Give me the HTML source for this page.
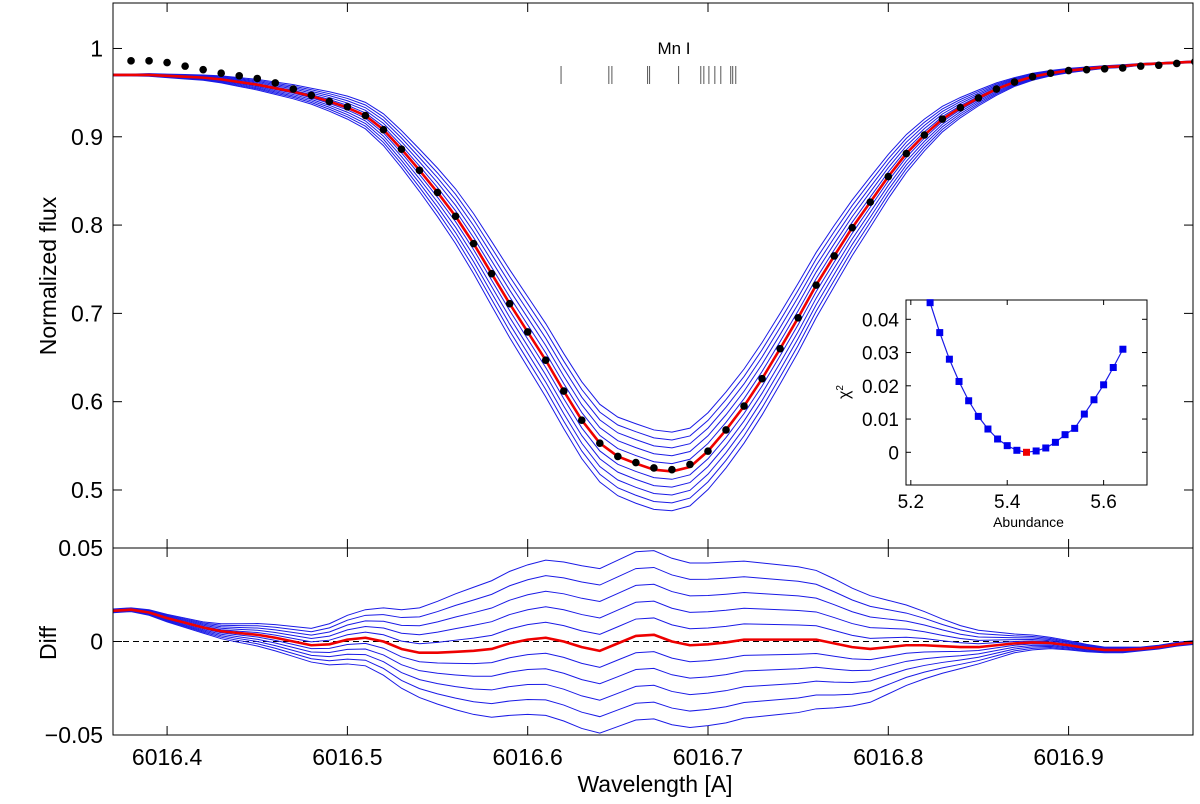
<!DOCTYPE html>
<html><head><meta charset="utf-8">
<style>
html,body{margin:0;padding:0;background:#fff;}
svg{display:block;font-family:"Liberation Sans",Arial,sans-serif;}
</style></head>
<body>
<svg id="chart" width="1200" height="804" viewBox="0 0 1200 804"></svg>
<script>
// ---- data ----
const modelWavelengths = []; // 6016.37 .. 6016.97 step 0.01
for (let i = 0; i <= 60; i++) modelWavelengths.push(+(6016.37 + 0.01 * i).toFixed(2));
const bestFitFlux = [0.970,0.970,0.970,0.969,0.968,0.967,0.965,0.962,0.959,0.955,0.951,0.946,0.940,0.933,
 0.924,0.908,0.886,0.862,0.837,0.810,0.779,0.745,0.711,0.679,0.647,0.612,0.579,0.553,0.538,0.530,
 0.523,0.521,0.526,0.544,0.568,0.595,0.626,0.660,0.695,0.732,0.765,0.797,0.826,0.855,0.881,0.902,
 0.920,0.933,0.944,0.954,0.962,0.968,0.972,0.975,0.977,0.979,0.980,0.982,0.983,0.984,0.985];
const abundanceSensitivity = [0.0002,0.0002,0.0003,0.0004,0.0005,0.0006,0.0008,0.0010,0.0012,0.0014,
 0.0016,0.0018,0.0022,0.0026,0.0030,0.0036,0.0042,0.0048,0.0055,0.0062,0.0068,0.0073,0.0077,0.0080,
 0.0083,0.0085,0.0087,0.0088,0.0089,0.0090,0.0090,0.0089,0.0088,0.0087,0.0086,0.0084,0.0082,0.0080,
 0.0078,0.0074,0.0069,0.0063,0.0057,0.0050,0.0043,0.0036,0.0029,0.0023,0.0018,0.0014,0.0010,0.0008,
 0.0006,0.0005,0.0004,0.0003,0.0003,0.0002,0.0002,0.0002,0.0002];
const bestFitDiff = [0.0164,0.017,0.0155,0.0125,0.010,0.0075,0.0055,0.0045,0.0036,0.002,0.000,-0.002,
 -0.0015,0.001,0.002,0.000,-0.004,-0.006,-0.006,-0.0055,-0.005,-0.004,-0.001,0.001,0.002,0.000,-0.003,
 -0.005,-0.001,0.003,0.0036,0.000,-0.002,-0.0015,-0.0005,0.001,0.001,0.001,0.001,0.001,-0.001,-0.003,
 -0.004,-0.003,-0.002,-0.002,-0.0025,-0.003,-0.003,-0.002,-0.001,-0.0005,-0.0008,-0.002,-0.0035,-0.0045,
 -0.0045,-0.004,-0.003,-0.0015,-0.0005];
const abundanceSteps = [-5,-4,-3,-2,-1,1,2,3,4,5];
const obsWavelengths = [];
for (let i = 0; i < 60; i++) obsWavelengths.push(+(6016.38 + 0.01 * i).toFixed(2));
const obsFlux = [0.986,0.986,0.984,0.980,0.976,0.972,0.969,0.966,0.961,0.954,0.947,0.940,0.934,0.924,
 0.908,0.886,0.862,0.837,0.810,0.779,0.745,0.711,0.679,0.647,0.612,0.579,0.553,0.538,0.531,0.525,
 0.523,0.529,0.544,0.568,0.595,0.626,0.660,0.695,0.732,0.765,0.797,0.826,0.855,0.881,0.902,0.920,
 0.933,0.944,0.954,0.962,0.968,0.972,0.975,0.976,0.977,0.978,0.980,0.981,0.983,0.985];
const lineMarkers = [6016.6185,6016.645,6016.6467,6016.6665,6016.6676,6016.6837,6016.696,6016.6977,
 6016.7005,6016.7038,6016.7071,6016.7126,6016.7137,6016.7154];
const xTicks = [6016.4,6016.5,6016.6,6016.7,6016.8,6016.9];
const yTicks = [0.5,0.6,0.7,0.8,0.9,1];
const yTickLabels = ["0.5","0.6","0.7","0.8","0.9","1"];
const diffTicks = [-0.05,0,0.05];
const diffTickLabels = ["\u22120.05","0","0.05"];
const chiAbund = [5.24,5.26,5.28,5.30,5.32,5.34,5.36,5.38,5.40,5.42,5.44,5.46,5.48,5.50,5.52,5.54,5.56,5.58,5.60,5.62,5.64];
const chiValues = [0.045,0.036,0.028,0.0213,0.0155,0.0108,0.007,0.004,0.002,0.0006,0.0,0.0004,0.0013,0.003,0.0053,0.0072,0.0115,0.0158,0.0203,0.0255,0.031];
const chiBestIndex = 10;
const chiXTicks = [5.2,5.4,5.6];
const chiYTicks = [0,0.01,0.02,0.03,0.04];

// ---- geometry ----
const NS = "http://www.w3.org/2000/svg";
const svg = document.getElementById("chart");
const L = 113, R = 1193, T = 3, MB = 548, DB = 735;
const xMin = 6016.37, xMax = 6016.969;
const X = v => L + (v - xMin) / (xMax - xMin) * (R - L);
const yMin = 0.4343, yMax = 1.0515;
const Y = v => MB - (v - yMin) / (yMax - yMin) * (MB - T);
const YD = v => DB - (v + 0.05) / 0.1 * (DB - MB);
const IL = 906, IR = 1147, IT = 300, IB = 485;
const XI = v => IL + (v - 5.19) / 0.5 * (IR - IL);
const YI = v => 452.3 - v / 0.01 * 33.25;

function el(tag, attrs, parent) {
  const e = document.createElementNS(NS, tag);
  for (const k in attrs) e.setAttribute(k, attrs[k]);
  (parent || svg).appendChild(e);
  return e;
}
function txt(s, attrs, parent) { const t = el("text", attrs, parent); t.textContent = s; return t; }
function pts(xs, ys, fx, fy) { return xs.map((x, i) => fx(x).toFixed(2) + "," + fy(ys[i]).toFixed(2)).join(" "); }

const defs = el("defs", {});
const c1 = el("clipPath", {id: "clipMain"}, defs); el("rect", {x: L, y: T, width: R - L, height: MB - T}, c1);
const c2 = el("clipPath", {id: "clipDiff"}, defs); el("rect", {x: L, y: MB, width: R - L, height: DB - MB}, c2);

// ---- main panel ----
const main = el("g", {"clip-path": "url(#clipMain)"});


abundanceSteps.forEach(k => {
  const ys = bestFitFlux.map((f, i) => f + k * abundanceSensitivity[i]);
  const p = el("polyline", {points: pts(modelWavelengths, ys, X, Y), fill: "none", stroke: "#1a1ae6", "stroke-width": 1}, main);
  
  
});
const red = el("polyline", {points: pts(modelWavelengths, bestFitFlux, X, Y), fill: "none", stroke: "#ee0000", "stroke-width": 2.6, "stroke-linejoin": "round"}, main);


obsWavelengths.forEach((w, i) => {
  const c = el("circle", {cx: X(w), cy: Y(obsFlux[i]), r: 3.8, fill: "#000"}, main);
  
  
});
lineMarkers.forEach(w => {
  const m = el("line", {x1: X(w), x2: X(w), y1: 66, y2: 84, stroke: "#555", "stroke-width": 1});
  
  
});
const mn = txt("Mn I", {x: 674, y: 54, "font-size": 17, "text-anchor": "middle"});



const mf = el("rect", {x: L, y: T, width: R - L, height: MB - T, fill: "none", stroke: "#000", "stroke-width": 1});


yTicks.forEach((v, i) => {
  el("line", {x1: L, x2: L + 9, y1: Y(v), y2: Y(v), stroke: "#000"});
  el("line", {x1: R - 9, x2: R, y1: Y(v), y2: Y(v), stroke: "#000"});
  const t = txt(yTickLabels[i], {x: L - 10, y: Y(v) + 8, "font-size": 23, "text-anchor": "end"});
  
  
});
xTicks.forEach(v => {
  el("line", {x1: X(v), x2: X(v), y1: T, y2: T + 9, stroke: "#000"});
  el("line", {x1: X(v), x2: X(v), y1: MB - 9, y2: MB, stroke: "#000"});
});
const yl = txt("Normalized flux", {x: 0, y: 0, "font-size": 23, "text-anchor": "middle", transform: "translate(56,276) rotate(-90)"});



// ---- inset ----
const inset = el("g", {});


el("rect", {x: IL, y: IT, width: IR - IL, height: IB - IT, fill: "#fff", stroke: "#000", "stroke-width": 1}, inset);
chiXTicks.forEach(v => {
  el("line", {x1: XI(v), x2: XI(v), y1: IB - 5, y2: IB, stroke: "#000"}, inset);
  el("line", {x1: XI(v), x2: XI(v), y1: IT, y2: IT + 5, stroke: "#000"}, inset);
  const t = txt(v.toFixed(1), {x: XI(v), y: IB + 23, "font-size": 19, "text-anchor": "middle"}, inset);
  
  
});
chiYTicks.forEach(v => {
  el("line", {x1: IL, x2: IL + 5, y1: YI(v), y2: YI(v), stroke: "#000"}, inset);
  el("line", {x1: IR - 5, x2: IR, y1: YI(v), y2: YI(v), stroke: "#000"}, inset);
  const t = txt(v === 0 ? "0" : v.toFixed(2), {x: IL - 7, y: YI(v) + 7, "font-size": 19, "text-anchor": "end"}, inset);
  
  
});
const cl = el("polyline", {points: pts(chiAbund, chiValues, XI, YI), fill: "none", stroke: "#1a1ae6", "stroke-width": 1.2}, inset);


chiAbund.forEach((a, i) => {
  const s = el("rect", {x: XI(a) - 3.5, y: YI(chiValues[i]) - 3.5, width: 7, height: 7, fill: i === chiBestIndex ? "#ee0000" : "#0000ee"}, inset);
  
  
});
const ax = txt("Abundance", {x: (IL + IR) / 2 + 2, y: 527, "font-size": 14, "text-anchor": "middle"}, inset);


const ay = el("text", {x: 0, y: 0, "font-size": 16, "text-anchor": "middle", transform: "translate(849,392) rotate(-90)"}, inset);
ay.innerHTML = 'χ<tspan dy="-6" font-size="10">2</tspan>';



// ---- diff panel ----
const diff = el("g", {"clip-path": "url(#clipDiff)"});


const zl = el("line", {x1: L, x2: R, y1: YD(0), y2: YD(0), stroke: "#000", "stroke-dasharray": "6,4", "stroke-width": 1}, diff);


abundanceSteps.forEach(k => {
  const ys = bestFitDiff.map((d, i) => d - k * abundanceSensitivity[i]);
  const p = el("polyline", {points: pts(modelWavelengths, ys, X, YD), fill: "none", stroke: "#1a1ae6", "stroke-width": 1}, diff);
  
  
});
const rd = el("polyline", {points: pts(modelWavelengths, bestFitDiff, X, YD), fill: "none", stroke: "#ee0000", "stroke-width": 2.6, "stroke-linejoin": "round"}, diff);


const df = el("rect", {x: L, y: MB, width: R - L, height: DB - MB, fill: "none", stroke: "#000", "stroke-width": 1});


diffTicks.forEach((v, i) => {
  el("line", {x1: L, x2: L + 9, y1: YD(v), y2: YD(v), stroke: "#000"});
  el("line", {x1: R - 9, x2: R, y1: YD(v), y2: YD(v), stroke: "#000"});
  const t = txt(diffTickLabels[i], {x: L - 10, y: YD(v) + 8, "font-size": 23, "text-anchor": "end"});
  
  
});
xTicks.forEach(v => {
  el("line", {x1: X(v), x2: X(v), y1: MB, y2: MB + 9, stroke: "#000"});
  el("line", {x1: X(v), x2: X(v), y1: DB - 9, y2: DB, stroke: "#000"});
  const t = txt(v.toFixed(1), {x: X(v), y: 765, "font-size": 23, "text-anchor": "middle"});
  
  
});
const dl = txt("Diff", {x: 0, y: 0, "font-size": 23, "text-anchor": "middle", transform: "translate(56,643) rotate(-90)"});


const xl = txt("Wavelength [A]", {x: 655, y: 792, "font-size": 23, "text-anchor": "middle"});


</script>
</body></html>
